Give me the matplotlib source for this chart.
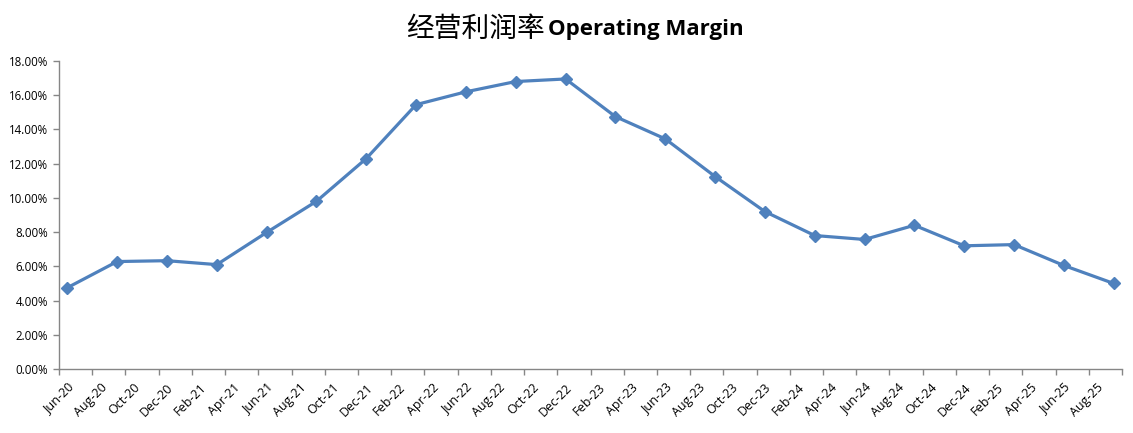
import matplotlib
matplotlib.use("Agg")
import matplotlib.pyplot as plt
import matplotlib.transforms as mtransforms
from matplotlib.ticker import FuncFormatter

# Quarterly data points (month-end), Jun-20 .. Sep-25
quarters = ["Jun-20", "Sep-20", "Dec-20", "Mar-21", "Jun-21", "Sep-21", "Dec-21",
            "Mar-22", "Jun-22", "Sep-22", "Dec-22", "Mar-23", "Jun-23", "Sep-23",
            "Dec-23", "Mar-24", "Jun-24", "Sep-24", "Dec-24", "Mar-25", "Jun-25", "Sep-25"]
margin_pct = [4.75, 6.28, 6.33, 6.10, 7.98, 9.80, 12.30, 15.45, 16.20, 16.80, 16.95,
              14.75, 13.45, 11.25, 9.20, 7.80, 7.57, 8.40, 7.20, 7.27, 6.05, 5.00]
# Axis tick labels every two months
tick_labels = ["Jun-20", "Aug-20", "Oct-20", "Dec-20", "Feb-21", "Apr-21", "Jun-21", "Aug-21",
               "Oct-21", "Dec-21", "Feb-22", "Apr-22", "Jun-22", "Aug-22", "Oct-22", "Dec-22",
               "Feb-23", "Apr-23", "Jun-23", "Aug-23", "Oct-23", "Dec-23", "Feb-24", "Apr-24",
               "Jun-24", "Aug-24", "Oct-24", "Dec-24", "Feb-25", "Apr-25", "Jun-25", "Aug-25"]

months = ["Jan", "Feb", "Mar", "Apr", "May", "Jun", "Jul", "Aug", "Sep", "Oct", "Nov", "Dec"]

def month_index(label):
    m, y = label.split("-")
    return (int(y) - 20) * 12 + months.index(m) - 5  # Jun-20 -> 0

x = [month_index(q) + 0.5 for q in quarters]
tick_pos = [month_index(t) for t in tick_labels]
end_pos = tick_pos[-1] + 2

fig = plt.figure(figsize=(11.33, 4.33), dpi=100)
ax = fig.add_axes([59/1133, 1 - 369/433, (1122 - 59)/1133, (369 - 61)/433])

color = "#4F81BD"
ax.plot(x, margin_pct, color=color, lw=2.3, marker="D", markersize=6.5,
        markerfacecolor=color, markeredgecolor=color, solid_joinstyle="round")

ax.set_xlim(0, end_pos)
ax.set_ylim(0, 18)
ax.set_yticks([0, 2, 4, 6, 8, 10, 12, 14, 16, 18])
ax.yaxis.set_major_formatter(FuncFormatter(lambda v, p: f"{v:.2f}%"))
ax.set_xticks(tick_pos + [end_pos])
ax.set_xticklabels(tick_labels + [""], rotation=45, ha="right", rotation_mode="anchor")

for s in ["top", "right"]:
    ax.spines[s].set_visible(False)
for s in ["left", "bottom"]:
    ax.spines[s].set_color("#868686")
    ax.spines[s].set_linewidth(1.0)
ax.tick_params(axis="both", colors="#868686", length=4.5, width=1.0,
               labelcolor="black", labelsize=8)
ax.tick_params(axis="x", pad=4, labelsize=9)
ax.tick_params(axis="y", labelsize=8.3)
offset = mtransforms.ScaledTranslation(8/100, 0, fig.dpi_scale_trans)
for lab in ax.get_xticklabels():
    lab.set_transform(lab.get_transform() + offset)
for lab in ax.get_xticklabels() + ax.get_yticklabels():
    lab.set_fontfamily(["Open Sans", "DejaVu Sans"])

ty = 1 - 29/433
fig.text(545/1133, ty, "经营利润率", family=["Noto Sans CJK SC"], fontsize=20,
         ha="right", va="center")
fig.text(548/1133, ty, "Operating Margin", family=["Open Sans"], fontsize=16,
         fontweight="bold", ha="left", va="center")

fig.savefig("out.png", dpi=100, facecolor="white")
